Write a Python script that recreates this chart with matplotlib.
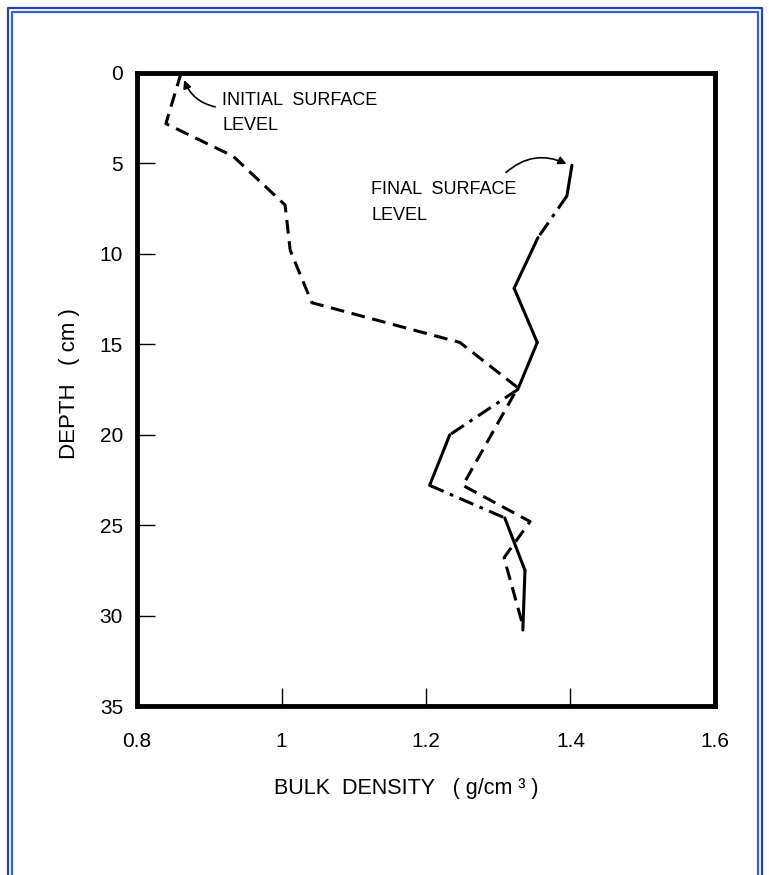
import matplotlib
matplotlib.use("Agg")
import matplotlib.pyplot as plt
from matplotlib.lines import Line2D

plt.rcParams['font.family'] = ['Liberation Sans', 'DejaVu Sans']

# initial profile (dashed line)
initial_density = [0.861, 0.840, 0.933, 1.005, 1.012, 1.042, 1.247, 1.327, 1.251, 1.344, 1.308, 1.333]
initial_depth = [0.0, 2.8, 4.6, 7.3, 9.8, 12.7, 14.9, 17.4, 22.8, 24.8, 26.8, 30.4]

# final profile (solid line, some stretches drawn dash-dot)
final_density = [1.402, 1.395, 1.355, 1.322, 1.354, 1.327, 1.233, 1.205, 1.309, 1.337, 1.334]
final_depth = [5.1, 6.8, 9.1, 11.9, 14.9, 17.5, 20.0, 22.8, 24.6, 27.5, 30.8]
dashdot_segments = [1, 5, 7]

x_ticks = [0.8, 1.0, 1.2, 1.4, 1.6]
x_tick_labels = ['0.8', '1', '1.2', '1.4', '1.6']
y_ticks = [0, 5, 10, 15, 20, 25, 30, 35]

W, H = 769, 875
fig = plt.figure(figsize=(W / 100, H / 100), dpi=100)
ax = fig.add_axes([137 / W, 1 - 706 / H, (715 - 137) / W, (706 - 73) / H])

lw = 2.2
ax.plot(initial_density, initial_depth, color='black', lw=lw,
        linestyle=(0, (4.5, 2.5)), dash_capstyle='butt', solid_joinstyle='miter')

for i in range(len(final_density) - 1):
    xs = final_density[i:i + 2]
    ys = final_depth[i:i + 2]
    if i in dashdot_segments:
        ax.plot(xs, ys, color='black', lw=lw, linestyle=(0, (5, 2.2, 1.2, 2.2)))
    else:
        ax.plot(xs, ys, color='black', lw=lw, solid_capstyle='round')

ax.set_xlim(0.8, 1.6)
ax.set_ylim(35, 0)
ax.set_xticks(x_ticks)
ax.set_xticklabels(x_tick_labels)
ax.set_yticks(y_ticks)
ax.tick_params(direction='in', length=13, width=1, labelsize=15)
ax.tick_params(axis='x', pad=19)
ax.tick_params(axis='y', pad=10)
for s in ax.spines.values():
    s.set_linewidth(3.5)

ax.set_xlabel('BULK  DENSITY   ( g/cm ³ )', fontsize=15.5)
ax.xaxis.set_label_coords(0.465, -0.113)
ax.set_ylabel('DEPTH   ( cm )', fontsize=16)
ax.yaxis.set_label_coords(-0.099, 0.51)

ax.text(0.918, 1.05, 'INITIAL  SURFACE\nLEVEL', fontsize=13, va='top', ha='left', linespacing=1.6)
ax.annotate('', xy=(0.864, 0.25), xytext=(0.912, 1.9),
            arrowprops=dict(arrowstyle='-|>', color='black', lw=1.2,
                            connectionstyle='arc3,rad=-0.3', mutation_scale=12))

ax.text(1.124, 5.95, 'FINAL  SURFACE\nLEVEL', fontsize=13, va='top', ha='left', linespacing=1.7)
ax.annotate('', xy=(1.398, 5.1), xytext=(1.308, 5.6),
            arrowprops=dict(arrowstyle='-|>', color='black', lw=1.2,
                            connectionstyle='arc3,rad=-0.35', mutation_scale=12))

# blue double frame round the picture
def frame(off, color, width):
    x0, x1, y0 = off / W, 1 - off / W, 1 - off / H
    fig.add_artist(Line2D([x0, x0, x1, x1], [-0.01, y0, y0, -0.01],
                          transform=fig.transFigure, color=color, lw=width))

frame(7.5, '#2443a8', 1.6)
frame(11.5, '#3a5ccc', 1.6)

fig.savefig('out.png', dpi=100)
